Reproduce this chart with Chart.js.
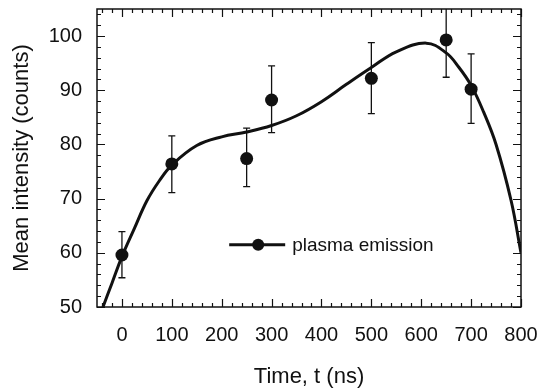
<!DOCTYPE html>
<html>
<head>
<meta charset="utf-8">
<script src="https://cdn.jsdelivr.net/npm/chart.js@4.4.1/dist/chart.umd.min.js"></script>
<style>
  html, body { margin: 0; padding: 0; background: #fff; }
  #wrap { width: 548px; height: 391px; }
</style>
</head>
<body>
<div id="wrap"><canvas id="intensityChart" width="548" height="391"></canvas></div>
<script>
// measured points (time in ns, mean intensity in counts, error half-width)
const times = [0, 100, 250, 300, 500, 650, 700];
const intensity = [59.6, 76.4, 77.4, 88.2, 92.2, 99.3, 90.2];
const errLow = [4.2, 5.3, 5.2, 6.0, 6.5, 6.9, 6.3];
const errHigh = [4.3, 5.2, 5.6, 6.3, 6.6, 6.9, 6.5];

// fitted curve
const fitTimes = [-38, -20, 0, 25, 50, 75, 100, 150, 200, 250, 300, 350, 400, 450, 500, 550, 610, 650, 675, 700, 725, 750, 780, 800];
const fitValues = [50, 54.4, 59.3, 64.5, 69.6, 73.3, 76.2, 79.8, 81.4, 82.3, 83.5, 85.3, 87.9, 91.1, 94.2, 97.1, 98.7, 96.9, 94.3, 90.9, 86.0, 80.0, 69.7, 60.0];

const xTicks = [0, 100, 200, 300, 400, 500, 600, 700, 800];
const yTicks = [50, 60, 70, 80, 90, 100];

const ink = '#111';
const fontFam = '"Liberation Sans", Arial, Helvetica, sans-serif';

// error bars drawn through the chart scales
const errorBars = {
  id: 'errorBars',
  afterDatasetsDraw(chart) {
    const { ctx, chartArea, scales: { x, y } } = chart;
    ctx.save();
    ctx.beginPath();
    ctx.rect(chartArea.left, chartArea.top, chartArea.right - chartArea.left, chartArea.bottom - chartArea.top);
    ctx.clip();
    ctx.strokeStyle = ink;
    ctx.lineWidth = 1.3;
    times.forEach((t, i) => {
      const px = x.getPixelForValue(t);
      const top = y.getPixelForValue(intensity[i] + errHigh[i]);
      const bot = y.getPixelForValue(intensity[i] - errLow[i]);
      ctx.beginPath();
      ctx.moveTo(px, top); ctx.lineTo(px, bot);
      ctx.moveTo(px - 3.5, top); ctx.lineTo(px + 3.5, top);
      ctx.moveTo(px - 3.5, bot); ctx.lineTo(px + 3.5, bot);
      ctx.stroke();
    });
    ctx.restore();
  }
};

// inward major/minor ticks on all four sides plus the box
const frameTicks = {
  id: 'frameTicks',
  afterDraw(chart) {
    const { ctx, chartArea: a, scales: { x, y } } = chart;
    ctx.save();
    ctx.strokeStyle = ink;
    ctx.lineWidth = 1.5;
    ctx.strokeRect(a.left, a.top, a.right - a.left, a.bottom - a.top);
    ctx.lineWidth = 1.2;
    ctx.beginPath();
    for (let v = -40; v <= 800; v += 20) {
      const px = Math.round(x.getPixelForValue(v)) + 0.5;
      const len = v % 100 === 0 ? 8 : 4;
      ctx.moveTo(px, a.bottom); ctx.lineTo(px, a.bottom - len);
      ctx.moveTo(px, a.top); ctx.lineTo(px, a.top + len);
    }
    for (let v = 50; v <= 104; v += 2) {
      const py = Math.round(y.getPixelForValue(v)) + 0.5;
      const len = v % 10 === 0 ? 8 : 4;
      ctx.moveTo(a.left, py); ctx.lineTo(a.left + len, py);
      ctx.moveTo(a.right, py); ctx.lineTo(a.right - len, py);
    }
    ctx.stroke();

    // legend inside the plot
    const lx = x.getPixelForValue(215), ly = y.getPixelForValue(61.5);
    ctx.lineWidth = 3;
    ctx.beginPath();
    ctx.moveTo(lx, ly); ctx.lineTo(lx + 56, ly);
    ctx.stroke();
    ctx.fillStyle = ink;
    ctx.beginPath();
    ctx.arc(lx + 29, ly, 6, 0, Math.PI * 2);
    ctx.fill();
    ctx.font = '19px ' + fontFam;
    ctx.textBaseline = 'middle';
    ctx.textAlign = 'left';
    ctx.fillText('plasma emission', lx + 63, ly + 1);
    ctx.restore();
  }
};

const ctx = document.getElementById('intensityChart').getContext('2d');
const intensityChart = new Chart(ctx, {
  type: 'scatter',
  data: {
    datasets: [
      {
        label: 'fit',
        data: fitTimes.map((t, i) => ({ x: t, y: fitValues[i] })),
        showLine: true,
        borderColor: ink,
        borderWidth: 3,
        pointRadius: 0,
        tension: 0.4,
        fill: false
      },
      {
        label: 'plasma emission',
        data: times.map((t, i) => ({ x: t, y: intensity[i] })),
        showLine: false,
        pointRadius: 6.5,
        pointBackgroundColor: ink,
        pointBorderColor: ink,
        pointBorderWidth: 0
      }
    ]
  },
  options: {
    responsive: false,
    animation: false,
    layout: { padding: { top: 9, right: 27, left: 0, bottom: 0 } },
    plugins: { legend: { display: false }, tooltip: { enabled: false } },
    scales: {
      x: {
        type: 'linear',
        min: -50,
        max: 800,
        afterBuildTicks: (s) => { s.ticks = xTicks.map(v => ({ value: v })); },
        afterFit: (s) => { s.height = 84; s.paddingLeft = 0; s.paddingRight = 0; },
        grid: { display: false, drawTicks: false },
        border: { display: false },
        ticks: { color: ink, padding: 16, font: { family: fontFam, size: 20 }, maxRotation: 0 },
        title: { display: true, text: 'Time, t (ns)', color: ink, font: { family: fontFam, size: 22 }, padding: { top: 0, bottom: 1 } }
      },
      y: {
        min: 50,
        max: 105,
        afterBuildTicks: (s) => { s.ticks = yTicks.map(v => ({ value: v })); },
        afterFit: (s) => { s.width = 97; s.paddingTop = 0; s.paddingBottom = 0; },
        grid: { display: false, drawTicks: false },
        border: { display: false },
        ticks: { color: ink, padding: 15, font: { family: fontFam, size: 20 } },
        title: { display: true, text: 'Mean intensity (counts)', color: ink, font: { family: fontFam, size: 22 }, padding: { top: 9, bottom: 0 } }
      }
    }
  },
  plugins: [errorBars, frameTicks]
});
</script>
</body>
</html>
